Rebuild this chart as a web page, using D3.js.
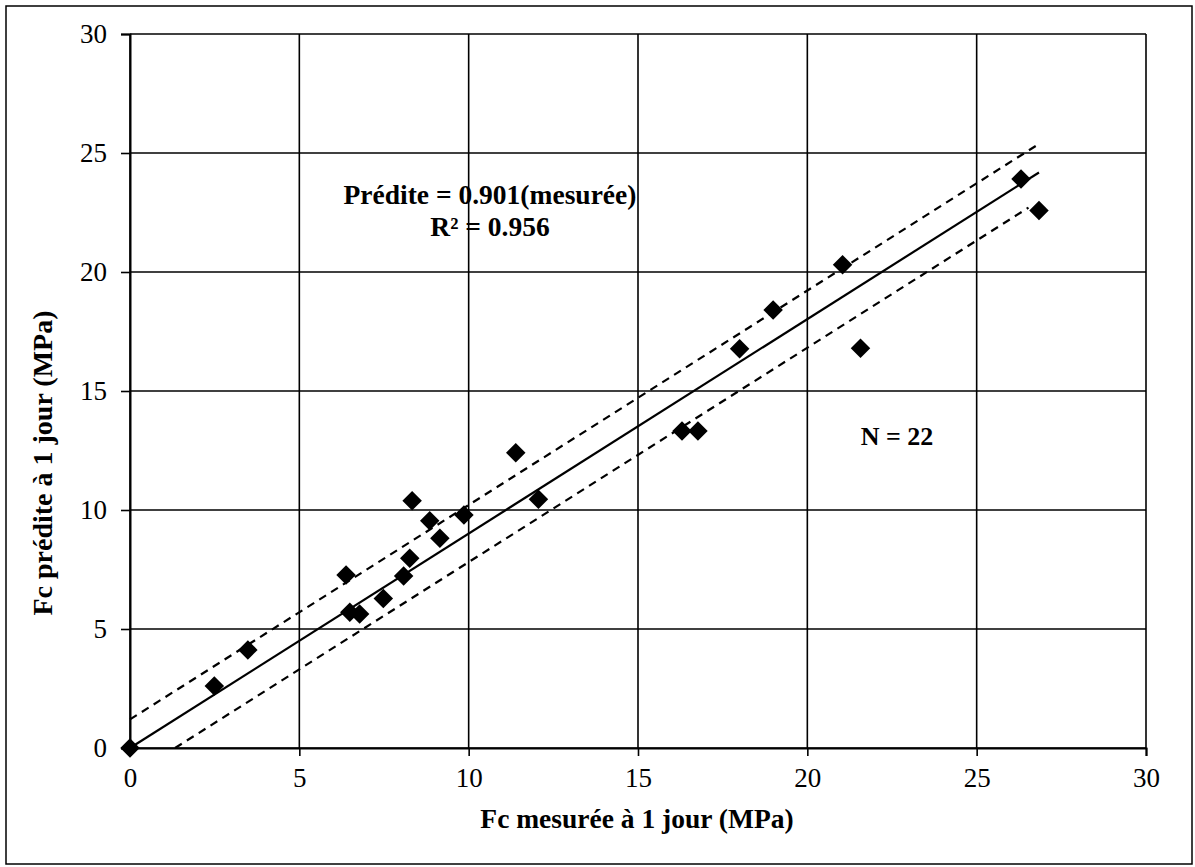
<!DOCTYPE html>
<html>
<head>
<meta charset="utf-8">
<script src="https://cdn.jsdelivr.net/npm/d3@7"></script>
<style>
  html, body { margin: 0; padding: 0; background: #fff; }
  svg { display: block; }
  text { font-family: "Liberation Serif", "Times New Roman", serif; fill: #000; }
</style>
</head>
<body>
<svg id="chart" width="1195" height="867"></svg>
<script>
// Measured vs predicted 1-day compressive strength (MPa)
const measured  = [0, 2.49, 3.48, 6.38, 6.49, 6.78, 7.48, 8.08, 8.26, 9.15, 8.33, 8.85, 9.86, 11.39, 12.06, 16.3, 16.77, 18.0, 18.99, 21.04, 21.57, 26.31, 26.84];
const predicted = [0, 2.6, 4.12, 7.27, 5.7, 5.63, 6.28, 7.23, 7.97, 8.81, 10.39, 9.55, 9.79, 12.41, 10.45, 13.32, 13.32, 16.78, 18.4, 20.3, 16.8, 23.91, 22.58];

const slope = 0.901;
const r2 = 0.956;
const band = 1.2;            // half-width of the dashed band (MPa)
const fitRange = [0, 26.84];
const lowerRange = [1.33, 26.53];
const nSamples = 22;

const xTicks = [0, 5, 10, 15, 20, 25, 30];
const yTicks = [0, 5, 10, 15, 20, 25, 30];
const xTitle = "Fc mesurée à 1 jour (MPa)";
const yTitle = "Fc prédite  à 1 jour (MPa)";

const svg = d3.select("#chart");
const x = d3.scaleLinear().domain([0, 30]).range([130, 1146]);
const y = d3.scaleLinear().domain([0, 30]).range([748, 34]);

// outer frame
svg.append("rect").attr("x", 6).attr("y", 6).attr("width", 1186).attr("height", 858)
  .attr("fill", "none").attr("stroke", "#000").attr("stroke-width", 1.5);

// grid
const grid = svg.append("g");
grid.selectAll("line.v").data(xTicks).join("line")
  .attr("x1", d => x(d)).attr("x2", d => x(d)).attr("y1", y(0)).attr("y2", y(30))
  .attr("stroke", "#000").attr("stroke-width", 1.6);
grid.selectAll("line.h").data(yTicks).join("line")
  .attr("x1", x(0)).attr("x2", x(30)).attr("y1", d => y(d)).attr("y2", d => y(d))
  .attr("stroke", "#000").attr("stroke-width", 1.6);

// axes
const xAxis = svg.append("g").attr("transform", `translate(0,${y(0)})`)
  .call(d3.axisBottom(x).tickValues(xTicks).tickSize(8).tickPadding(12).tickFormat(d3.format("d")));
const yAxis = svg.append("g").attr("transform", `translate(${x(0)},0)`)
  .call(d3.axisLeft(y).tickValues(yTicks).tickSize(9).tickPadding(14).tickFormat(d3.format("d")));
[xAxis, yAxis].forEach(a => {
  a.select(".domain").attr("stroke", "#000").attr("stroke-width", 2);
  a.selectAll(".tick line").attr("stroke", "#000").attr("stroke-width", 1.6);
  a.selectAll(".tick text").attr("font-family", "Liberation Serif, serif")
    .attr("font-size", 27).attr("fill", "#000");
});

// fitted line and dashed band
const line = d3.line().x(d => x(d[0])).y(d => y(d[1]));
svg.append("path")
  .attr("d", line(fitRange.map(v => [v, slope * v])))
  .attr("fill", "none").attr("stroke", "#000").attr("stroke-width", 2.2);
svg.append("path")
  .attr("d", line(fitRange.map(v => [v, slope * v + band])))
  .attr("fill", "none").attr("stroke", "#000").attr("stroke-width", 2.2)
  .attr("stroke-dasharray", "8,6");
svg.append("path")
  .attr("d", line(lowerRange.map(v => [v, slope * v - band])))
  .attr("fill", "none").attr("stroke", "#000").attr("stroke-width", 2.2)
  .attr("stroke-dasharray", "8,6");

// points
const sym = d3.symbol().type(d3.symbolSquare).size(190);
svg.append("g").selectAll("path").data(measured.map((m, i) => [m, predicted[i]])).join("path")
  .attr("d", sym)
  .attr("transform", d => `translate(${x(d[0])},${y(d[1])}) rotate(45)`)
  .attr("fill", "#000");

// annotations
svg.append("text").attr("x", 490).attr("y", 204).attr("text-anchor", "middle")
  .attr("font-size", 27.5).attr("font-weight", "bold")
  .text(`Prédite = ${slope.toFixed(3)}(mesurée)`);
svg.append("text").attr("x", 490).attr("y", 236).attr("text-anchor", "middle")
  .attr("font-size", 27.5).attr("font-weight", "bold")
  .text(`R² = ${r2.toFixed(3)}`);
svg.append("text").attr("x", 897).attr("y", 445).attr("text-anchor", "middle")
  .attr("font-size", 26).attr("font-weight", "bold")
  .text(`N = ${nSamples}`);

// axis titles
svg.append("text").attr("x", 637).attr("y", 828).attr("text-anchor", "middle")
  .attr("font-size", 27.5).attr("font-weight", "bold").text(xTitle);
svg.append("text").attr("transform", "translate(52,463) rotate(-90)").attr("text-anchor", "middle")
  .attr("font-size", 28).attr("font-weight", "bold").text(yTitle);
</script>
</body>
</html>
